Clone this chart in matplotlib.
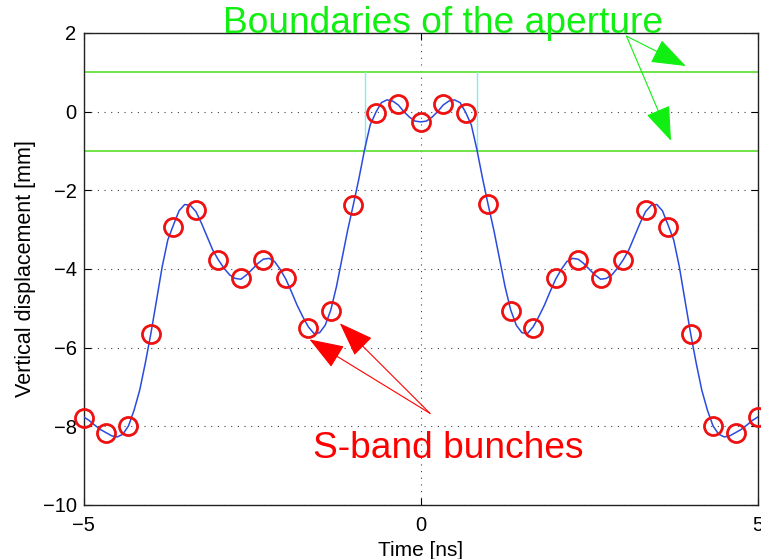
import numpy as np
import matplotlib
matplotlib.use("Agg")
import matplotlib.pyplot as plt

plt.rcParams['font.family'] = ['Liberation Sans', 'DejaVu Sans']

# ---- data ----
# continuous beam trajectory (time in ns, displacement in mm), sampled every 1/12 ns
line_t = np.linspace(-5, 5, 121)
line_y = [
    -7.76, -7.85, -7.97, -8.08, -8.16, -8.24, -8.27, -8.20, -7.99, -7.59,
    -7.08, -6.39, -5.63, -4.79, -3.94, -3.26, -2.88, -2.52, -2.36, -2.38,
    -2.54, -2.84, -3.18, -3.52, -3.77, -3.98, -4.15, -4.24, -4.26, -4.15,
    -4.01, -3.86, -3.75, -3.73, -3.81, -4.01, -4.26, -4.58, -4.92, -5.21,
    -5.47, -5.64, -5.62, -5.43, -5.04, -4.45, -3.73, -3.01, -2.37, -1.70,
    -0.97, -0.34, -0.02, 0.23, 0.30, 0.27, 0.17, 0.00, -0.14, -0.24,
    -0.26,
    -0.24, -0.14, 0.00, 0.17, 0.27, 0.30, 0.23, -0.02, -0.34, -0.97,
    -1.70, -2.37, -3.01, -3.73, -4.45, -5.04, -5.43, -5.62, -5.64, -5.47,
    -5.21, -4.92, -4.58, -4.26, -4.01, -3.81, -3.73, -3.75, -3.86, -4.01,
    -4.15, -4.26, -4.24, -4.15, -3.98, -3.77, -3.52, -3.18, -2.84, -2.54,
    -2.38, -2.36, -2.52, -2.88, -3.26, -3.94, -4.79, -5.63, -6.39, -7.08,
    -7.59, -7.99, -8.20, -8.27, -8.24, -8.16, -8.08, -7.97, -7.85, -7.76,
]

# S-band bunches (every 1/3 ns)
bunch_t = np.linspace(-5, 5, 31)
bunch_y = [
    -7.78, -8.17, -7.99, -5.64, -2.94, -2.51, -3.76, -4.24, -3.78, -4.24,
    -5.49, -5.06, -2.38, -0.04, 0.19, -0.27, 0.19, -0.04, -2.36, -5.06,
    -5.49, -4.24, -3.76, -4.24, -3.76, -2.51, -2.94, -5.64, -7.99, -8.17,
    -7.76,
]

aperture = [-1.0, 1.0]
window_t = [-0.83, 0.83]

xticks = [-5, 0, 5]
yticks = [-10, -8, -6, -4, -2, 0, 2]

title_text = "Boundaries of the aperture"
bunch_text = "S-band bunches"
green_tail = (3.05, 1.92)
green_heads = [(3.93, 1.16), (3.71, -0.74)]
red_tail = (0.137, -7.67)
red_heads = [(-1.65, -5.79), (-1.20, -5.38)]

# ---- figure ----
fig = plt.figure(figsize=(7.61, 5.59), dpi=100)
ax = fig.add_axes([83.5 / 761, 1 - 505 / 559, (758 - 83.5) / 761, (505 - 33) / 559])

ax.set_xlim(-5, 5)
ax.set_ylim(-10, 2)
ax.set_xticks(xticks)
ax.set_yticks(yticks)
ax.grid(True, linestyle=(0, (1, 5)), color='0.25', linewidth=0.8)
ax.set_axisbelow(True)

for yv in aperture:
    ax.axhline(yv, color='#66e03c', linewidth=1.3, zorder=2)
for tv in window_t:
    ax.plot([tv, tv], aperture, color='#80eeee', linewidth=1.0, zorder=2)

ax.plot(line_t, line_y, color='#2a4bde', linewidth=1.1, zorder=3)
ax.plot(bunch_t, bunch_y, linestyle='none', marker='o', markersize=13,
        markerfacecolor='none', markeredgecolor='#ee1111', markeredgewidth=2.0,
        zorder=4, clip_on=False)

ax.tick_params(direction='in', length=5, width=0.8, top=True, right=True,
               labelsize=14.5, pad=5, colors='black')
ax.tick_params(axis='x', pad=8)
for s in ax.spines.values():
    s.set_linewidth(1.0)
    s.set_color('#222222')

ax.set_xlabel("Time [ns]", fontsize=15, labelpad=4)
ax.set_ylabel("Vertical displacement [mm]", fontsize=15.5, labelpad=5)

ax.text(-2.93, 1.99, title_text, color='#11ee11', fontsize=26.7,
        va='baseline', ha='left', clip_on=False, zorder=6)
ax.text(-1.60, -8.81, bunch_text, color='#ff0000', fontsize=26.7,
        va='baseline', ha='left', zorder=6)

for h in green_heads:
    ax.annotate('', xy=h, xytext=green_tail,
                arrowprops=dict(arrowstyle='-|>,head_length=22,head_width=8',
                                mutation_scale=1, color='#11ee11', lw=0.8,
                                shrinkA=0, shrinkB=0), annotation_clip=False)
for h in red_heads:
    ax.annotate('', xy=h, xytext=red_tail,
                arrowprops=dict(arrowstyle='-|>,head_length=22,head_width=8',
                                mutation_scale=1, color='#ff0000', lw=0.8,
                                shrinkA=0, shrinkB=0), annotation_clip=False)

fig.savefig("out.png", dpi=100)
